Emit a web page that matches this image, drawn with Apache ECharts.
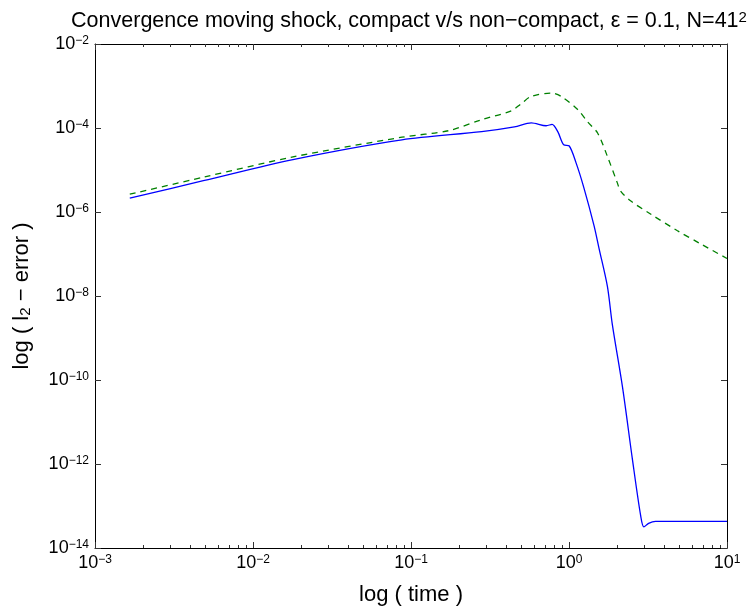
<!DOCTYPE html>
<html>
<head>
<meta charset="utf-8">
<script src="https://cdn.jsdelivr.net/npm/echarts@6/dist/echarts.min.js"></script>
<style>
html,body{margin:0;padding:0;background:#fff;}
#chart{width:752px;height:611px;}
</style>
</head>
<body>
<div id="chart"></div>
<script>
// compact scheme (solid blue)
const timeCompact = [0.00166, 0.00485, 0.0179, 0.0877, 0.280, 0.451, 0.577, 0.717, 0.781, 0.849, 0.926, 1.0, 1.107, 1.24, 1.44, 1.55, 1.75, 1.88, 2.18, 2.52, 2.84, 2.98, 3.19, 3.53, 10];
const errCompact  = [2.13e-6, 5.55e-6, 1.77e-5, 5.22e-5, 8.18e-5, 1.06e-4, 1.33e-4, 1.13e-4, 1.22e-4, 8.18e-5, 3.98e-5, 3.77e-5, 1.50e-5, 3.87e-6, 4.76e-7, 1.35e-7, 1.69e-8, 2.11e-9, 6.84e-11, 1.29e-12, 5.97e-14, 3.17e-14, 3.87e-14, 4.31e-14, 4.31e-14];
// non-compact scheme (dashed green)
const timeNonCompact = [0.00166, 0.00485, 0.0179, 0.0877, 0.173, 0.280, 0.431, 0.499, 0.577, 0.771, 0.891, 1.135, 1.31, 1.52, 1.75, 2.02, 2.12, 2.45, 3.28, 4.83, 6.76, 10];
const errNonCompact  = [2.65e-6, 6.73e-6, 2.05e-5, 6.04e-5, 8.63e-5, 1.58e-4, 2.55e-4, 3.81e-4, 5.66e-4, 6.78e-4, 5.66e-4, 2.75e-4, 1.41e-4, 7.50e-5, 2.11e-5, 5.00e-6, 3.17e-6, 1.85e-6, 8.97e-7, 3.63e-7, 1.77e-7, 7.83e-8];

const xMin = 1e-3, xMax = 10;
const yMin = 1e-14, yMax = 1e-2;
// minor tick multipliers inside each decade of the time axis
const minorMultipliers = [2, 3, 4, 5, 6, 7, 8, 9];
const decadeStarts = [1e-3, 1e-2, 1e-1, 1];

const FONT = 'Liberation Sans, Arial, Helvetica, sans-serif';
const supRich = {
  b: { fontSize: 18, fontFamily: FONT, color: '#000', lineHeight: 18, verticalAlign: 'bottom' },
  s: { fontSize: 12, fontFamily: FONT, color: '#000', lineHeight: 12, padding: [0, 0, 8, 0], verticalAlign: 'top' }
};
function powLabel(v) {
  const e = Math.round(Math.log10(v));
  return '{b|10}{s|' + String(e).replace('-', '\u2212') + '}';
}

const minorTickData = [];
decadeStarts.forEach(d => minorMultipliers.forEach(m => minorTickData.push([d * m, yMin])));

const chart = echarts.init(document.getElementById('chart'), null, { renderer: 'canvas' });
const axisLineStyle = { color: '#000', width: 1 };
const tickStyle = { color: '#333', width: 1 };

const option = {
  animation: false,
  backgroundColor: '#fff',
  title: {
    text: '{a|Convergence moving shock, compact v/s non\u2212compact, \u03b5 = 0.1, N=41}{s|2}',
    left: 404,
    textAlign: 'center',
    top: 5,
    textStyle: {
      fontWeight: 'normal',
      rich: {
        a: { fontSize: 21.5, fontWeight: 'normal', fontFamily: FONT, color: '#000', lineHeight: 22, verticalAlign: 'bottom' },
        s: { fontSize: 15, fontWeight: 'normal', fontFamily: FONT, color: '#000', lineHeight: 15, padding: [0, 0, 9, 0], verticalAlign: 'top' }
      }
    }
  },
  grid: { left: 91, right: 25, top: 44, bottom: 58, containLabel: false },
  xAxis: [
    {
      type: 'log', logBase: 10, min: xMin, max: xMax, position: 'bottom',
      name: 'log ( time )', nameLocation: 'middle', nameGap: 36,
      nameTextStyle: { fontSize: 22, fontFamily: FONT, color: '#000' },
      axisLine: { show: true, onZero: false, lineStyle: axisLineStyle },
      axisTick: { show: true, inside: true, length: 6, lineStyle: tickStyle },
      axisLabel: { formatter: powLabel, rich: supRich, margin: 6 },
      splitLine: { show: false }
    },
    {
      type: 'log', logBase: 10, min: xMin, max: xMax, position: 'top',
      axisLine: { show: true, onZero: false, lineStyle: axisLineStyle },
      axisTick: { show: true, inside: true, length: 6, lineStyle: tickStyle },
      axisLabel: { show: false },
      splitLine: { show: false }
    }
  ],
  yAxis: [
    {
      type: 'log', logBase: 100, min: yMin, max: yMax, position: 'left',
      name: '{a|log ( l}{sub|2}{a| \u2212 error )}', nameLocation: 'middle', nameGap: 62,
      nameTextStyle: {
        rich: {
          a: { fontSize: 22, fontFamily: FONT, color: '#000', lineHeight: 22, verticalAlign: 'top' },
          sub: { fontSize: 15, fontFamily: FONT, color: '#000', lineHeight: 15, padding: [10, 0, 0, 0], verticalAlign: 'bottom' }
        }
      },
      axisLine: { show: true, onZero: false, lineStyle: axisLineStyle },
      axisTick: { show: true, inside: true, length: 6, lineStyle: tickStyle },
      axisLabel: { formatter: powLabel, rich: supRich, margin: 6 },
      splitLine: { show: false }
    },
    {
      type: 'log', logBase: 100, min: yMin, max: yMax, position: 'right',
      axisLine: { show: true, onZero: false, lineStyle: axisLineStyle },
      axisTick: { show: true, inside: true, length: 6, lineStyle: tickStyle },
      axisLabel: { show: false },
      splitLine: { show: false }
    }
  ],
  series: [
    {
      name: 'minorTicks', type: 'custom', xAxisIndex: 0, yAxisIndex: 0,
      data: minorTickData, silent: true, clip: false,
      renderItem: function (params, api) {
        const cs = params.coordSys;
        const x = Math.round(api.coord([api.value(0), api.value(1)])[0]) + 0.5;
        const yb = cs.y + cs.height, yt = cs.y;
        return {
          type: 'group',
          children: [
            { type: 'line', shape: { x1: x, y1: yb, x2: x, y2: yb - 3 }, style: { stroke: '#333', lineWidth: 1 } },
            { type: 'line', shape: { x1: x, y1: yt, x2: x, y2: yt + 3 }, style: { stroke: '#333', lineWidth: 1 } }
          ]
        };
      }
    },
    {
      name: 'compact', type: 'line', xAxisIndex: 0, yAxisIndex: 0,
      data: timeCompact.map((t, i) => [t, errCompact[i]]),
      showSymbol: false, smooth: 0.3,
      lineStyle: { color: '#0000ff', width: 1.3, type: 'solid' },
      itemStyle: { color: '#0000ff' }
    },
    {
      name: 'non-compact', type: 'line', xAxisIndex: 0, yAxisIndex: 0,
      data: timeNonCompact.map((t, i) => [t, errNonCompact[i]]),
      showSymbol: false, smooth: 0.3,
      lineStyle: { color: '#008000', width: 1.3, type: [6, 5] },
      itemStyle: { color: '#008000' }
    }
  ]
};
chart.setOption(option);
</script>
</body>
</html>
